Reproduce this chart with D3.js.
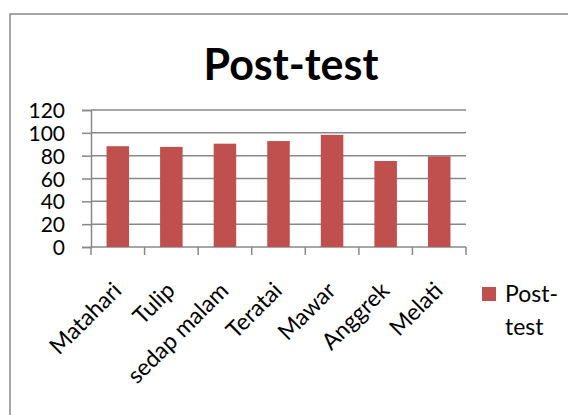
<!DOCTYPE html>
<html>
<head>
<meta charset="utf-8">
<script src="https://cdn.jsdelivr.net/npm/d3@7"></script>
<style>
  body { margin: 0; background: #fff; }
  svg { display: block; font-family: Lato, "Open Sans", sans-serif; }
</style>
</head>
<body>
<div id="chart"></div>
<script>
"use strict";

const categories = ["Matahari", "Tulip", "sedap malam", "Teratai", "Mawar", "Anggrek", "Melati"];
const postTest = [88.3, 87.7, 90.5, 92.8, 98.2, 75.3, 79.4];
const yTicks = [0, 20, 40, 60, 80, 100, 120];
const seriesName = "Post-test";

const msm = {
    width: 568,
    height: 415,
    left: 91,
    right: 466,
    top: 110,
    bottom: 247
};
const barColor = "#C0504D";
const gridColor = "#888888";

let svg = d3.select("#chart")
    .append("svg")
    .attr("width", msm.width)
    .attr("height", msm.height);

// chart area border (only left and top visible in the crop)
svg.append("rect")
    .attr("x", 10)
    .attr("y", 14)
    .attr("width", 700)
    .attr("height", 600)
    .attr("fill", "none")
    .attr("stroke", gridColor)
    .attr("stroke-width", 1.5);

let xScale = d3.scaleBand()
    .domain(categories)
    .range([msm.left, msm.right])
    .paddingInner(0.58)
    .paddingOuter(0.29);

let yScale = d3.scaleLinear()
    .domain([0, 120])
    .range([msm.bottom, msm.top]);

// horizontal gridlines
svg.append("g")
    .selectAll("line")
    .data(yTicks)
    .enter()
    .append("line")
    .attr("x1", msm.left)
    .attr("x2", msm.right)
    .attr("y1", d => yScale(d))
    .attr("y2", d => yScale(d))
    .attr("stroke", gridColor)
    .attr("stroke-width", 1.5);

// y axis
let yAxis = d3.axisLeft(yScale)
    .tickValues(yTicks)
    .tickSize(9)
    .tickPadding(17);
let yG = svg.append("g")
    .attr("transform", "translate(" + msm.left + ",0)")
    .call(yAxis);
yG.select(".domain").attr("stroke", gridColor).attr("stroke-width", 1.5);
yG.selectAll(".tick line").attr("stroke", gridColor).attr("stroke-width", 1.5);
yG.selectAll(".tick text")
    .attr("fill", "#000")
    .style("font-size", "21px")
    .style("font-family", "Lato, sans-serif")
    .attr("dy", "0.36em");

// x axis: tick marks at category boundaries
let step = xScale.step();
let bounds = d3.range(categories.length + 1).map(i => msm.left + i * step);
svg.append("g")
    .selectAll("line")
    .data(bounds)
    .enter()
    .append("line")
    .attr("x1", d => d)
    .attr("x2", d => d)
    .attr("y1", msm.bottom)
    .attr("y2", msm.bottom + 8)
    .attr("stroke", gridColor)
    .attr("stroke-width", 1.5);

// rotated category labels
svg.append("g")
    .selectAll("text")
    .data(categories)
    .enter()
    .append("text")
    .attr("transform", d => "translate(" + (xScale(d) + xScale.bandwidth() / 2 + 5) + "," + 292 + ") rotate(-45)")
    .attr("text-anchor", "end")
    .style("font-size", "23px")
    .text(d => d);

// bars
svg.append("g")
    .selectAll("rect")
    .data(postTest)
    .enter()
    .append("rect")
    .attr("x", (d, i) => xScale(categories[i]))
    .attr("y", d => yScale(d))
    .attr("width", xScale.bandwidth())
    .attr("height", d => yScale(0) - yScale(d))
    .attr("fill", barColor);

// title
svg.append("text")
    .attr("x", 291)
    .attr("y", 80)
    .attr("text-anchor", "middle")
    .style("font-size", "43px")
    .style("font-weight", "bold")
    .text(seriesName);

// legend
svg.append("rect")
    .attr("x", 482)
    .attr("y", 287)
    .attr("width", 14)
    .attr("height", 14)
    .attr("fill", barColor);

let legendText = svg.append("text")
    .attr("x", 505)
    .attr("y", 302)
    .style("font-size", "23px");
legendText.append("tspan").attr("x", 505).text("Post-");
legendText.append("tspan").attr("x", 505).attr("dy", 33).text("test");
</script>
</body>
</html>
